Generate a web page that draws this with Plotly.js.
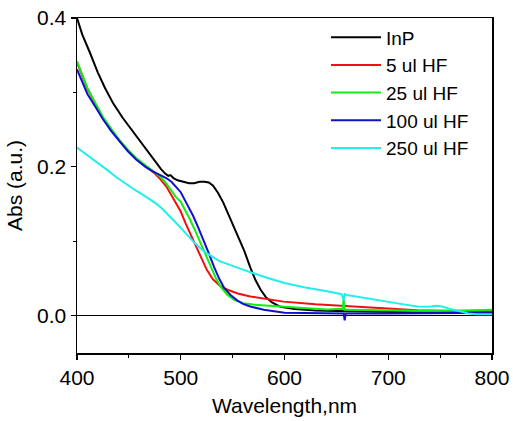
<!DOCTYPE html>
<html>
<head>
<meta charset="utf-8">
<script src="https://cdn.plot.ly/plotly-3.0.1.min.js"></script>
<style>html,body{margin:0;padding:0;background:#fff;}#chart{width:513px;height:421px;}</style>
</head>
<body>
<div id="chart"></div>
<script>
// Series names
const seriesNames = ["InP", "5 ul HF", "25 ul HF", "100 ul HF", "250 ul HF"];

// InP
const wlInP  = [400,405,412,420,427,435,444,452,458,464,470,476,481,485,488,490,493,497,502,508,513,518,523,527,531,536,541,546,551,556,561,567,572,577,582,588,596,610,630,660,700,750,800];
const absInP = [0.400,0.378,0.355,0.327,0.306,0.285,0.266,0.251,0.241,0.230,0.218,0.206,0.197,0.191,0.188,0.189,0.185,0.182,0.180,0.178,0.178,0.180,0.180,0.179,0.175,0.165,0.152,0.136,0.120,0.104,0.088,0.065,0.048,0.035,0.025,0.018,0.012,0.009,0.007,0.006,0.005,0.004,0.004];

// 5 ul HF
const wl5  = [400,405,410,418,425,433,441,449,457,466,470,475,480,486,491,496,500,505,509,514,519,525,531,538,545,555,567,580,599,630,664,700,728,760,800];
const abs5 = [0.340,0.322,0.305,0.284,0.266,0.250,0.235,0.222,0.211,0.201,0.197,0.191,0.184,0.174,0.162,0.149,0.140,0.123,0.111,0.096,0.080,0.062,0.049,0.040,0.035,0.030,0.026,0.023,0.019,0.0155,0.0125,0.0095,0.0075,0.0065,0.006];

// 25 ul HF
const wl25  = [400,405,410,418,425,433,441,449,457,466,470,476,481,486,491,495,500,505,509,514,519,524,529,534,539,545,552,560,570,585,600,620,641,650,656,657,658,660,700,728,770,800];
const abs25 = [0.342,0.323,0.306,0.285,0.267,0.251,0.236,0.223,0.212,0.202,0.198,0.192,0.186,0.178,0.167,0.160,0.153,0.140,0.129,0.114,0.098,0.082,0.065,0.050,0.038,0.028,0.021,0.017,0.015,0.0135,0.0125,0.010,0.0085,0.009,0.009,0.022,0.008,0.008,0.007,0.0067,0.007,0.008];

// 100 ul HF
const wl100  = [400,405,410,418,425,433,441,449,457,466,473,480,486,491,496,500,506,512,517,522,527,532,537,542,548,554,560,567,580,600,640,657,658,659,700,750,800];
const abs100 = [0.331,0.314,0.298,0.280,0.264,0.248,0.234,0.221,0.210,0.200,0.194,0.189,0.185,0.180,0.173,0.166,0.150,0.134,0.118,0.102,0.084,0.066,0.050,0.037,0.028,0.021,0.016,0.0125,0.008,0.004,0.003,0.003,-0.006,0.003,0.003,0.003,0.004];

// 250 ul HF
const wl250  = [400,410,419,428,438,447,457,464,470,476,482,488,494,500,507,514,521,528,533,538,545,552,560,570,583,600,620,641,655,657,658,660,680,696,712,728,740,746,752,760,767,772,777,785,800];
const abs250 = [0.226,0.216,0.206,0.197,0.186,0.177,0.168,0.162,0.157,0.151,0.144,0.136,0.127,0.118,0.107,0.097,0.088,0.081,0.077,0.073,0.069,0.066,0.062,0.057,0.051,0.044,0.038,0.033,0.029,0.021,0.029,0.028,0.023,0.019,0.016,0.0125,0.012,0.0135,0.0125,0.009,0.007,0.005,0.003,0.002,0.002];

const xTickVals = [400,500,600,700,800];
const yTickVals = [0.0,0.2,0.4];

const colors = ["#000000","#ee1111","#11ee11","#1111cc","#22eeee"];
const xs = [wlInP, wl5, wl25, wl100, wl250];
const ys = [absInP, abs5, abs25, abs100, abs250];

const FONT = "Liberation Sans, Arial, sans-serif";

const traces = seriesNames.map((name, i) => ({
  type: "scatter",
  mode: "lines",
  name: name,
  x: xs[i],
  y: ys[i],
  line: {color: colors[i], width: 2}
}));

const layout = {
  width: 513,
  height: 421,
  margin: {l: 77, r: 21, t: 18, b: 68, pad: 0},
  paper_bgcolor: "#ffffff",
  plot_bgcolor: "#ffffff",
  font: {family: FONT, size: 21, color: "#000"},
  showlegend: true,
  legend: {
    x: 0.6, y: 0.999, xanchor: "left", yanchor: "top",
    bgcolor: "rgba(0,0,0,0)",
    font: {family: FONT, size: 19, color: "#000"},
    itemwidth: 50,
    tracegroupgap: 0
  },
  xaxis: {
    range: [400, 800],
    tickvals: xTickVals,
    ticktext: xTickVals.map(String),
    ticks: "outside", ticklen: 5, tickwidth: 1.2, tickcolor: "#000",
    showline: true, linecolor: "#000", linewidth: 1.5, mirror: true,
    showgrid: false, zeroline: false,
    minor: {dtick: 50, tick0: 400, ticks: "outside", ticklen: 3, tickcolor: "#000", showgrid: false},
    tickfont: {family: FONT, size: 21, color: "#000"},
    title: {text: "Wavelength,nm", font: {family: FONT, size: 21, color: "#000"}, standoff: 10}
  },
  yaxis: {
    range: [-0.05, 0.4],
    tickvals: yTickVals,
    ticktext: yTickVals.map(v => v.toFixed(1)),
    ticks: "outside", ticklen: 5, tickwidth: 1.2, tickcolor: "#000",
    showline: true, linecolor: "#000", linewidth: 1.5, mirror: true,
    showgrid: false,
    zeroline: true, zerolinecolor: "#000", zerolinewidth: 1.2,
    minor: {dtick: 0.1, tick0: 0, ticks: "outside", ticklen: 3, tickcolor: "#000", showgrid: false},
    tickfont: {family: FONT, size: 21, color: "#000"},
    title: {text: "Abs (a.u.)", font: {family: FONT, size: 21, color: "#000"}, standoff: 8}
  }
};

Plotly.newPlot("chart", traces, layout, {displayModeBar: false, staticPlot: true});
</script>
</body>
</html>
